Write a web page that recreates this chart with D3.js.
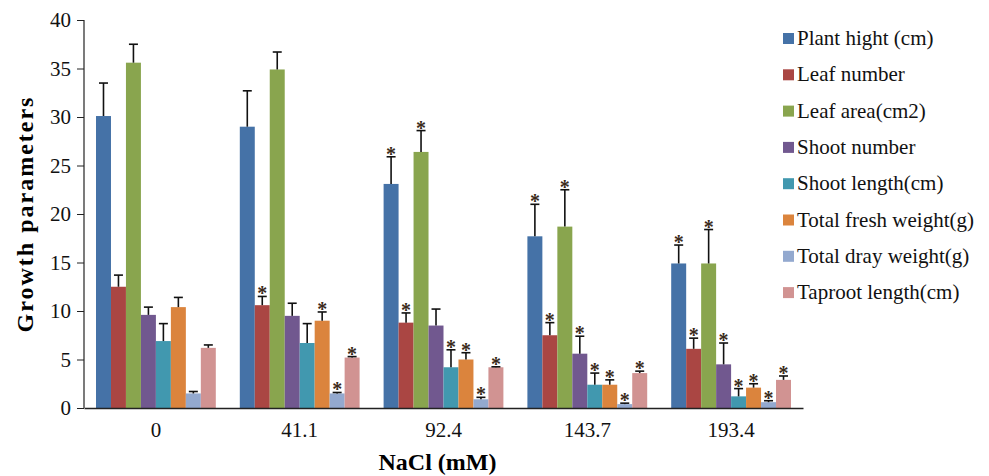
<!DOCTYPE html>
<html>
<head>
<meta charset="utf-8">
<script src="https://cdn.jsdelivr.net/npm/d3@7"></script>
<style>
  body { margin: 0; background: #fff; }
  svg { font-family: "Liberation Serif", "DejaVu Serif", serif; }
</style>
</head>
<body>
<svg width="989" height="476"></svg>
<script>
// data
const categories = ['0', '41.1', '92.4', '143.7', '193.4'];
const seriesNames = ['Plant hight (cm)', 'Leaf number', 'Leaf area(cm2)', 'Shoot number',
  'Shoot length(cm)', 'Total fresh weight(g)', 'Total dray weight(g)', 'Taproot length(cm)'];
const colors = ['#4572a7', '#aa4643', '#89a54e', '#71588f', '#4198af', '#db843d', '#93a9cf', '#d19392'];

// one array per series, values per NaCl level
const plantHight   = [30.1, 29.0, 23.1, 17.7, 14.9];
const leafNumber   = [12.5, 10.6, 8.8, 7.5, 6.1];
const leafArea     = [35.6, 34.9, 26.4, 18.7, 14.9];
const shootNumber  = [9.6, 9.5, 8.5, 5.6, 4.5];
const shootLength  = [6.9, 6.7, 4.2, 2.4, 1.2];
const freshWeight  = [10.4, 9.0, 5.0, 2.4, 2.1];
const drayWeight   = [1.5, 1.5, 0.9, 0.4, 0.6];
const taprootLen   = [6.2, 5.2, 4.2, 3.6, 2.9];

// error (upper only)
const errPlantHight  = [3.4, 3.7, 2.8, 3.3, 1.9];
const errLeafNumber  = [1.2, 0.9, 1.0, 1.3, 1.1];
const errLeafArea    = [1.9, 1.8, 2.2, 3.8, 3.5];
const errShootNumber = [0.8, 1.3, 1.7, 1.8, 2.2];
const errShootLength = [1.8, 2.0, 1.8, 1.2, 0.8];
const errFreshWeight = [1.0, 0.9, 0.7, 0.5, 0.4];
const errDrayWeight  = [0.2, 0.1, 0.2, 0.1, 0.15];
const errTaprootLen  = [0.3, 0.1, 0.05, 0.2, 0.4];

// significance marks (1 = asterisk)
const sigPlantHight  = [0, 0, 1, 1, 1];
const sigLeafNumber  = [0, 1, 1, 1, 1];
const sigLeafArea    = [0, 0, 1, 1, 1];
const sigShootNumber = [0, 0, 0, 1, 1];
const sigShootLength = [0, 0, 1, 1, 1];
const sigFreshWeight = [0, 1, 1, 1, 1];
const sigDrayWeight  = [0, 1, 1, 1, 1];
const sigTaprootLen  = [0, 1, 1, 1, 1];

const yTicks = [0, 5, 10, 15, 20, 25, 30, 35, 40];

const values = [plantHight, leafNumber, leafArea, shootNumber, shootLength, freshWeight, drayWeight, taprootLen];
const errors = [errPlantHight, errLeafNumber, errLeafArea, errShootNumber, errShootLength, errFreshWeight, errDrayWeight, errTaprootLen];
const sigs = [sigPlantHight, sigLeafNumber, sigLeafArea, sigShootNumber, sigShootLength, sigFreshWeight, sigDrayWeight, sigTaprootLen];

const svg = d3.select('svg');
const plotLeft = 84, plotRight = 803, plotTop = 20, plotBottom = 408;

const x = d3.scaleBand().domain(categories).range([plotLeft, plotRight]);
const xSub = d3.scaleBand().domain(d3.range(seriesNames.length))
  .range([12, x.bandwidth() - 12]);
const y = d3.scaleLinear().domain([0, 40]).range([plotBottom, plotTop]);

// flatten into rows for drawing
const rows = [];
categories.forEach((c, ci) => {
  seriesNames.forEach((s, si) => {
    rows.push({c: c, s: si, v: values[si][ci], e: errors[si][ci], sig: sigs[si][ci]});
  });
});

// bars
svg.append('g').selectAll('rect').data(rows).join('rect')
  .attr('x', d => x(d.c) + xSub(d.s))
  .attr('y', d => y(d.v))
  .attr('width', xSub.bandwidth())
  .attr('height', d => y(0) - y(d.v))
  .attr('fill', d => colors[d.s]);

// error bars
const eb = svg.append('g').attr('stroke', '#111').attr('stroke-width', 1.6);
rows.forEach(d => {
  const cx = x(d.c) + xSub(d.s) + xSub.bandwidth() / 2;
  eb.append('line').attr('x1', cx).attr('x2', cx).attr('y1', y(d.v)).attr('y2', y(d.v + d.e));
  eb.append('line').attr('x1', cx - 4.5).attr('x2', cx + 4.5).attr('y1', y(d.v + d.e)).attr('y2', y(d.v + d.e));
});

// asterisks
svg.append('g').selectAll('text').data(rows.filter(d => d.sig)).join('text')
  .attr('x', d => x(d.c) + xSub(d.s) + xSub.bandwidth() / 2)
  .attr('y', d => y(d.v + d.e) + 4)
  .attr('text-anchor', 'middle')
  .attr('font-size', 20)
  .attr('font-weight', 'bold')
  .attr('fill', '#3a2a1a')
  .text('*');

// y axis
const yAxis = svg.append('g').attr('transform', `translate(${plotLeft},0)`)
  .call(d3.axisLeft(y).tickValues(yTicks).tickSize(7).tickPadding(6));
yAxis.select('.domain').attr('stroke', '#222').attr('stroke-width', 1.2).attr('d', `M0,${plotTop}V${plotBottom}`);
yAxis.selectAll('.tick line').attr('stroke', '#222');
yAxis.selectAll('text').attr('font-size', 21).attr('font-family', 'Liberation Serif').attr('fill', '#111');

// x axis
const xAxis = svg.append('g').attr('transform', `translate(0,${plotBottom})`)
  .call(d3.axisBottom(x).tickSize(0).tickPadding(14));
xAxis.select('.domain').attr('stroke', '#222').attr('stroke-width', 1.5);
xAxis.selectAll('text').attr('font-size', 21).attr('font-family', 'Liberation Serif').attr('fill', '#111');

// axis titles
svg.append('text')
  .attr('transform', `translate(33,${(plotTop + plotBottom) / 2}) rotate(-90)`)
  .attr('text-anchor', 'middle')
  .attr('font-size', 24).attr('font-weight', 'bold')
  .attr('letter-spacing', 2)
  .text('Growth parameters');

svg.append('text')
  .attr('x', (plotLeft + plotRight) / 2 - 6).attr('y', 470)
  .attr('text-anchor', 'middle')
  .attr('font-size', 24).attr('font-weight', 'bold')
  .text('NaCl (mM)');

// legend
const lg = svg.append('g').attr('transform', 'translate(783,38)');
seriesNames.forEach((s, i) => {
  const row = lg.append('g').attr('transform', `translate(0,${i * 36.3})`);
  row.append('rect').attr('x', 0).attr('y', -5).attr('width', 11).attr('height', 11).attr('fill', colors[i]);
  row.append('text').attr('x', 14).attr('y', 7).attr('font-size', 21).attr('fill', '#111').text(s);
});
</script>
</body>
</html>
